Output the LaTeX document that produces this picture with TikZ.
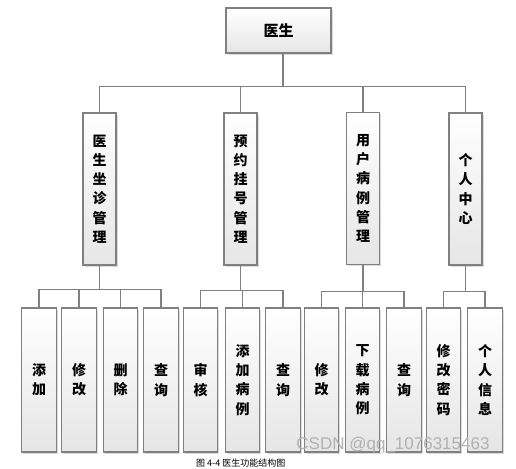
\documentclass[tikz,border=0pt]{standalone}
\usepackage{fontspec}
\newfontfamily\cjk{Noto Sans CJK SC}
\newfontfamily\wmfont{Liberation Sans}
\usetikzlibrary{shadows}
\tikzset{
	box/.style={draw=gray, line width=1.2pt, top color=white, bottom color=gray!20,
		drop shadow={shadow xshift=1.6pt,shadow yshift=-1.6pt,fill=gray!55},
		inner sep=0pt, align=center, font=\cjk\bfseries\fontsize{14}{19.3}\selectfont},
	rootbox/.style={box, minimum width=105pt, minimum height=45pt},
	midbox/.style={box, minimum width=33pt, minimum height=152pt},
	leafbox/.style={box, minimum width=34.5pt, minimum height=144pt},
	link/.style={draw=gray, line width=1.2pt}
}

\begin{document}
\begin{tikzpicture}[x=1pt,y=-1pt]
	\useasboundingbox[fill=white] (0,0) rectangle (516,468);
	\node[rootbox, font=\cjk\bfseries\fontsize{15}{15}\selectfont] (doc) at (278.5,30.5) {医生};
	\node[midbox] (m1) at (99.5,189) {医\\生\\坐\\诊\\管\\理};
	\node[midbox] (m2) at (240.5,189) {预\\约\\挂\\号\\管\\理};
	\node[midbox] (m3) at (363,188.5) {用\\户\\病\\例\\管\\理};
	\node[midbox] (m4) at (465.5,189) {个\\人\\中\\心};
	\node[leafbox] (l1) at (39,380) {添\\加};
	\node[leafbox] (l2) at (79,380) {修\\改};
	\node[leafbox] (l3) at (120.5,380) {删\\除};
	\node[leafbox] (l4) at (161,380) {查\\询};
	\node[leafbox] (l5) at (200.5,380) {审\\核};
	\node[leafbox] (l6) at (242.5,380) {添\\加\\病\\例};
	\node[leafbox] (l7) at (283,380) {查\\询};
	\node[leafbox] (l8) at (321.5,380) {修\\改};
	\node[leafbox] (l9) at (362.5,380) {下\\载\\病\\例};
	\node[leafbox] (l10) at (404,380) {查\\询};
	\node[leafbox] (l11) at (443.5,380) {修\\改\\密\\码};
	\node[leafbox] (l12) at (485,380) {个\\人\\信\\息};
	\foreach \c in {m1,m2,m3,m4}
		\draw[link] ([xshift=4.5pt]doc.south) -- ++(0,33) -| (\c.north);
	\foreach \c in {l1,l2,l3,l4}
		\draw[link] (m1.south) -- ++(0,24) -| (\c.north);
	\foreach \c in {l5,l6,l7}
		\draw[link] (m2.south) -- ++(0,25) -| (\c.north);
	\foreach \c in {l8,l9,l10}
		\draw[link] (m3.south) -- ++(0,26) -| (\c.north);
	\foreach \c in {l11,l12}
		\draw[link] (m4.south) -- ++(0,26) -| (\c.north);
	\node[font=\wmfont\fontsize{17}{17}\selectfont, text=gray!60] (wm) at (393,445) {CSDN @qq\_1076315463};
	\node[anchor=south west, inner sep=0pt, font=\cjk\fontsize{9}{9}\selectfont] (cap) at (196,467) {图 4-4 医生功能结构图};
\end{tikzpicture}
\end{document}
